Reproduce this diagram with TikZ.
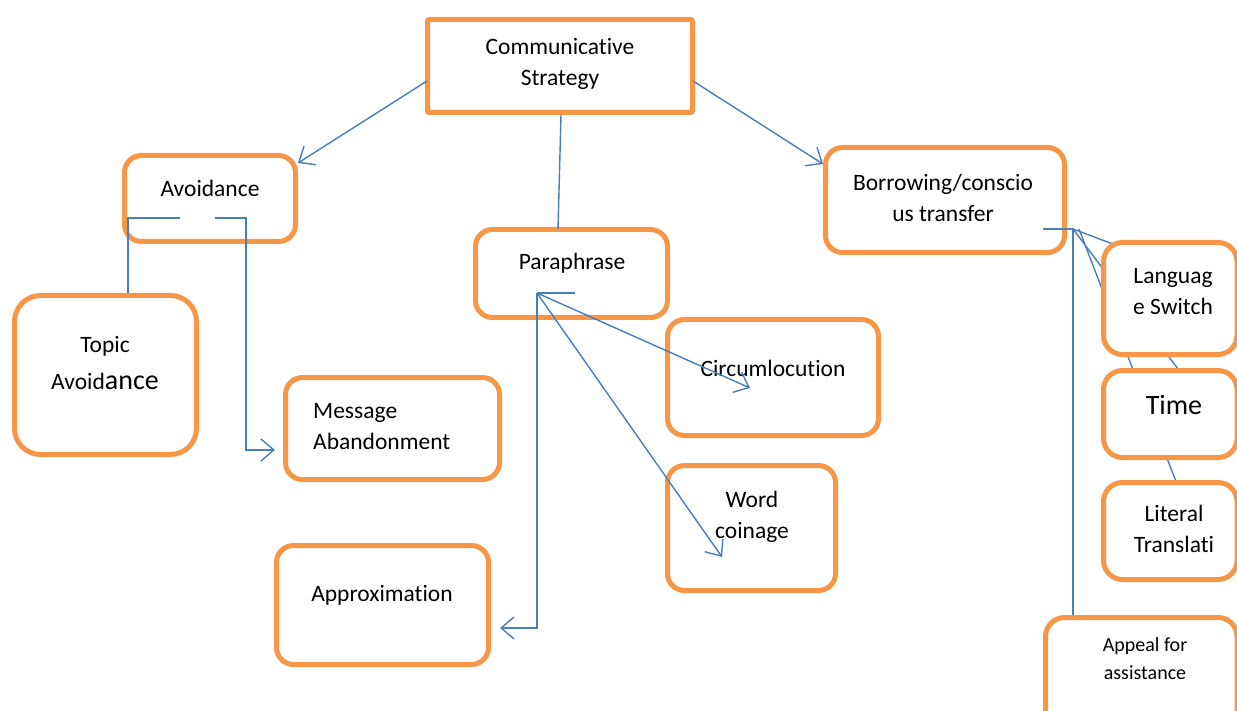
\documentclass[tikz,border=0pt]{standalone}
\usepackage{fontspec}
\setmainfont{Carlito}[Ligatures={NoCommon}]
\usetikzlibrary{arrows.meta,calc}
\pgfdeclarelayer{bg}
\pgfsetlayers{bg,main}
\definecolor{orng}{HTML}{F79646}
\definecolor{blu}{HTML}{4A7EBB}
\begin{document}
\begin{tikzpicture}[x=1pt,y=-1pt,
  box/.style={draw=orng, line width=5pt, fill=white, rounded corners=17pt, inner sep=0pt},
  conn/.style={draw=blu, line width=1.4pt},
  arr/.style={conn, -{Straight Barb[length=13pt,width=22pt,line width=1.4pt]}},
  txt/.style={font=\fontsize{23.5}{31}\selectfont, align=center, inner sep=0pt, text=black}]
\useasboundingbox (0,0) rectangle (1237,711);
\clip (0,0) rectangle (1237,711);

% boxes
\node[box, rounded corners=2pt, minimum width=265pt, minimum height=93pt] (cs) at (560,66) {};
\node[box, minimum width=171pt, minimum height=86pt] (avoid) at (210,198.5) {};
\node[box, rounded corners=26pt, minimum width=182pt, minimum height=159pt] (topic) at (105.5,375) {};
\node[box, minimum width=214pt, minimum height=102pt] (msg) at (392.5,428.5) {};
\node[box, minimum width=212pt, minimum height=119pt] (approx) at (382.5,605) {};
\node[box, minimum width=192pt, minimum height=88pt] (para) at (571.5,273.5) {};
\node[box, minimum width=211pt, minimum height=116pt] (circ) at (773,377.5) {};
\node[box, minimum width=168pt, minimum height=125pt] (word) at (751.5,528) {};
\node[box, minimum width=239pt, minimum height=105pt] (borrow) at (945,200) {};
\node[box, rounded corners=19pt, minimum width=133.5pt, minimum height=112pt] (lang) at (1170.25,298.5) {};
\node[box, rounded corners=19pt, minimum width=133.5pt, minimum height=87pt] (time) at (1170.25,414) {};
\node[box, rounded corners=19pt, minimum width=133.5pt, minimum height=97pt] (lit) at (1170.25,531) {};
\node[box, rounded corners=19pt, minimum width=191.5pt, minimum height=127.5pt] (appeal) at (1141.25,681.25) {};

% texts
\node[txt] (tcs) at (560,64) {Communicative\\Strategy};
\node[txt] (tavoid) at (210,188) {Avoidance};
\node[txt, font=\fontsize{23.5}{37}\selectfont] (ttopic) at (105,363) {Topic\\Avoid{\fontsize{28}{37}\selectfont ance}};
\node[txt, align=left, anchor=west] (tmsg) at (313,427) {Message\\Abandonment};
\node[txt] (tapprox) at (382,595) {Approximation};
\node[txt] (tpara) at (572,263) {Paraphrase};
\node[txt] (tcirc) at (773,368) {Circumlocution};
\node[txt] (tword) at (752,517) {Word\\coinage};
\node[txt] (tborrow) at (943,198) {Borrowing/conscio\\us transfer};
\node[txt] (tlang) at (1173,292) {Languag\\e Switch};
\node[txt, font=\fontsize{28}{34}\selectfont] (ttime) at (1174,405) {Time};
\node[txt] (tlit) at (1174,529) {Literal\\Translati};
\node[txt, font=\fontsize{20}{28}\selectfont] (tappeal) at (1145,659) {Appeal for\\assistance};

% named free ends
\coordinate (avA) at (180,218);
\coordinate (avB) at (215,218);
\coordinate (pp) at (537,293);
\coordinate (bh) at (1043,229);
\coordinate (fan) at (1073,229);
\coordinate (fan2) at (1079,229);
\coordinate (fanA) at (1150,258);
\coordinate (fanB) at (1190,385);
\coordinate (fanC) at (1185,505);

% connectors from the top box
\draw[arr] ($(cs.west)+(2,15)$) -- ($(avoid.north east)+(0,10)$);
\draw[arr] ($(cs.east)+(-2,15)$) -- ($(borrow.north west)+(0,19)$);
\draw[conn] ($(cs.south)+(1,0)$) -- ($(para.north)+(-13.5,2)$);

% avoidance
\draw[conn] (avA) -- (128,218) -- ($(topic.north)+(22.5,0)$);
\draw[arr] (avB) -- (246,218) -- (246,450) -- ($(msg.west)+(-8,21.5)$);

% paraphrase
\draw[conn] ($(para.south)+(3.5,-27)$) -- (pp);
\draw[arr] (pp) -- (537,628) -- ($(approx.east)+(9,23)$);
\draw[arr] (pp) -- ($(circ.center)+(-23,10.5)$);
\draw[arr] (pp) -- ($(word.center)+(-29.5,29)$);

% borrowing
\draw[conn] (bh) -- (fan) -- (fan |- appeal.north);
\begin{pgfonlayer}{bg}
\draw[conn] (fan) -- (fanA);
\draw[conn] (fan) -- (fanB);
\draw[conn] (fan2) -- (fanC);
\end{pgfonlayer}
\end{tikzpicture}
\end{document}
